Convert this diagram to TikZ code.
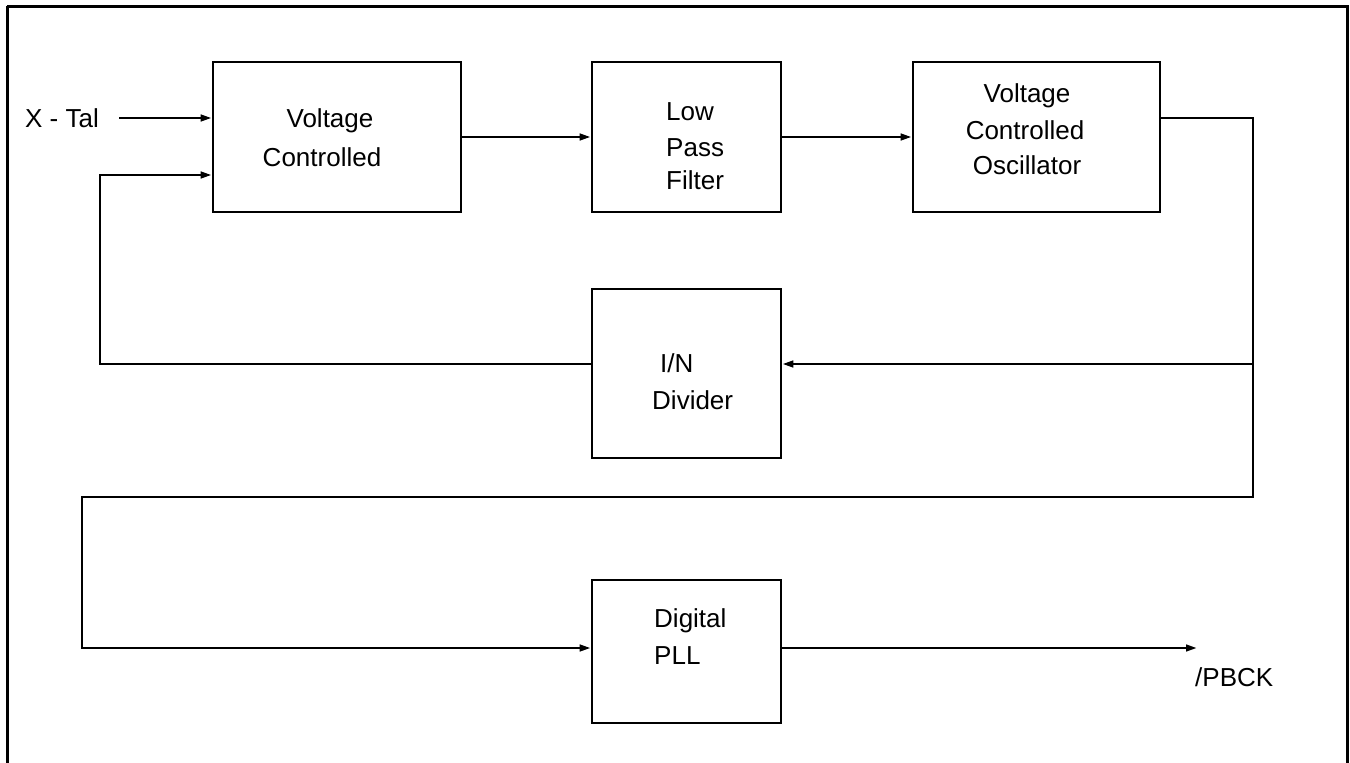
\documentclass[tikz,border=0pt]{standalone}
\usepackage{fontspec}
\setmainfont{Liberation Sans}
\usetikzlibrary{arrows.meta}
\begin{document}
\begin{tikzpicture}[x=1pt,y=-1pt,
  box/.style={draw, line width=2.6pt, inner sep=0pt},
  lbl/.style={inner sep=0pt, font=\fontsize{26}{35}\selectfont},
  wire/.style={line width=2.6pt},
  arr/.style={wire, -{Triangle[length=11pt,width=6.5pt]}}]
\useasboundingbox (0,0) rectangle (1350,763);
\draw[line width=3pt] (7,6) -- (1347,6) -- (1347,770) (7,6) -- (7,770);
% boxes
\node[box, minimum width=248pt, minimum height=150pt] (vc) at (337,137) {};
\node[box, minimum width=189pt, minimum height=150pt] (lpf) at (686.5,137) {};
\node[box, minimum width=247pt, minimum height=150pt] (vco) at (1036.5,137) {};
\node[box, minimum width=189pt, minimum height=169pt] (div) at (686.5,373.5) {};
\node[box, minimum width=189pt, minimum height=143pt] (dpll) at (686.5,651.5) {};
% texts
\node[lbl, anchor=base] (vct1) at (330,127) {Voltage};
\node[lbl, anchor=base] (vct2) at (322,166) {Controlled};
\node[lbl, anchor=base west] (lpft1) at (666,120) {Low};
\node[lbl, anchor=base west] (lpft2) at (666,156) {Pass};
\node[lbl, anchor=base west] (lpft3) at (666,189) {Filter};
\node[lbl, anchor=base] (vcot1) at (1027,102) {Voltage};
\node[lbl, anchor=base] (vcot2) at (1025,139) {Controlled};
\node[lbl, anchor=base] (vcot3) at (1027,174) {Oscillator};
\node[lbl, anchor=base west] (divt1) at (660,372) {I/N};
\node[lbl, anchor=base west] (divt2) at (652,409) {Divider};
\node[lbl, anchor=base west] (dpt1) at (654,627) {Digital};
\node[lbl, anchor=base west] (dpt2) at (654,664) {PLL};
\node[lbl, anchor=base west] (xtal) at (25,127) {X - Tal};
\node[lbl, anchor=base west] (pbck) at (1195,686) {/PBCK};
% coordinates
\coordinate (xin) at (119,118);
\coordinate (fb) at (100,175);
\coordinate (vcoout) at (1253,118);
\coordinate (j) at (1253,364);
\coordinate (low) at (1253,497);
\coordinate (lowl) at (82,497);
\coordinate (outend) at (1197,648);
% connectors
\draw[arr] (xin) -- (xin -| vc.west);
\draw[arr] (vc.east) -- (lpf.west);
\draw[arr] (lpf.east) -- (vco.west);
\draw[arr] (vcoout -| vco.east) -- (vcoout) -- (low) -- (lowl) |- ([yshift=3.5pt]dpll.west);
\draw[arr] (j) -- (j -| div.east);
\draw[arr] (j -| div.west) -| (fb) -- (fb -| vc.west);
\draw[arr] ([yshift=3.5pt]dpll.east) -- (outend);
\end{tikzpicture}
\end{document}
